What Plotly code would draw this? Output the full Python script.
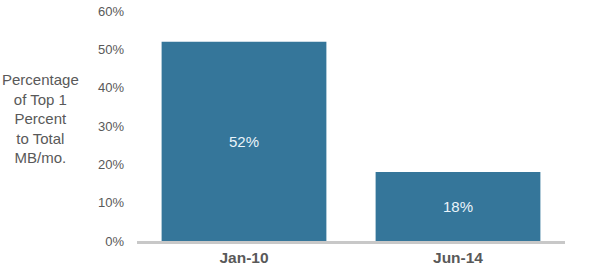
import plotly.graph_objects as go

categories = ["Jan-10", "Jun-14"]
values = [52, 18]
labels = ["52%", "18%"]
tick_vals = [0, 10, 20, 30, 40, 50, 60]
tick_text = ["0%", "10%", "20%", "30%", "40%", "50%", "60%"]
y_title = "Percentage<br>of Top 1<br>Percent<br>to Total<br>MB/mo."

L, R, T, B = 137, 40, 11, 35
pw, ph = 605 - L - R, 276 - T - B

fig = go.Figure()
fig.add_trace(go.Bar(
    x=categories, y=values, text=labels, textposition="inside",
    insidetextanchor="middle",
    textfont=dict(family="Liberation Sans, Arial", size=15, color="#eaf4fb"),
    marker=dict(color="#35769a", line=dict(width=0)),
    hoverinfo="skip",
))
fig.update_layout(
    width=605, height=276,
    margin=dict(l=L, r=R, t=T, b=B),
    paper_bgcolor="white", plot_bgcolor="white",
    bargap=0.23, showlegend=False,
    font=dict(family="Liberation Sans, Arial", color="#595959"),
    xaxis=dict(showgrid=False, showline=True, linecolor="#c8c8c8", linewidth=3,
               tickfont=dict(size=15.5, color="#595959"),
               tickprefix="<b>", ticksuffix="</b>",
               ticks="", ticklabelstandoff=0, automargin=False),
    yaxis=dict(range=[0, 60], tickvals=tick_vals, ticktext=tick_text,
               showgrid=False, zeroline=False, showline=False,
               tickfont=dict(size=13, color="#595959"), ticks="",
               ticklabelstandoff=12, automargin=False),
    annotations=[dict(text=y_title, x=(40 - L) / pw, y=(241 - 119) / ph,
                      xref="paper", yref="paper", xanchor="center", yanchor="middle",
                      showarrow=False, font=dict(size=15, color="#595959"), align="center")],
)
fig.write_html("out.html")
